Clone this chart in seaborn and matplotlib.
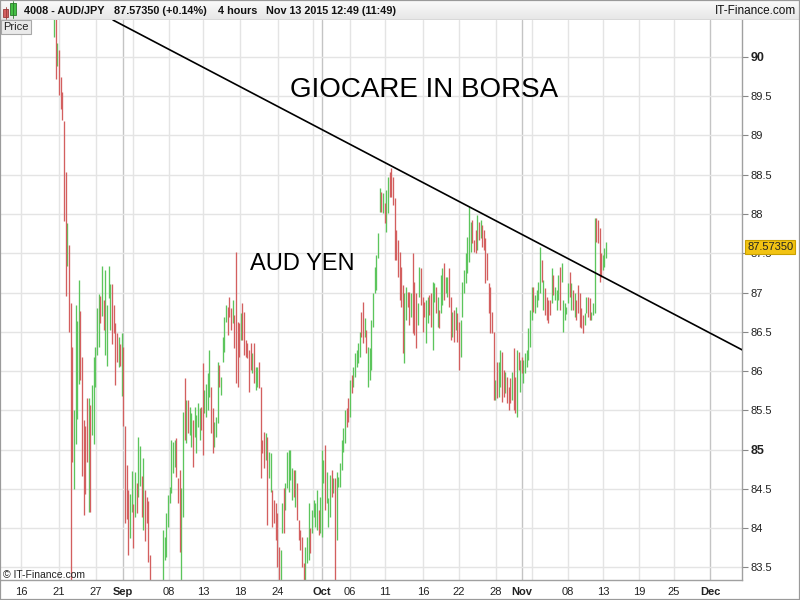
import numpy as np
import pandas as pd
import matplotlib
matplotlib.use('Agg')
import matplotlib.pyplot as plt
import matplotlib.transforms as mtransforms
from matplotlib.patches import Rectangle
import seaborn as sns

# AUD/JPY 4-hour bars: high, low, up (1 = close above open)
# Aug 20 - Sep 4
high_aug = [90.6, 90.6, 90.18, 90.09, 89.75, 89.56, 89.18, 88.54, 87.88, 87.61,
            86.86, 86.30, 85.50, 86.84, 86.64, 87.16, 86.77, 86.18, 85.37, 85.30,
            85.66, 85.66, 85.57, 85.82, 86.18, 86.30, 86.80, 86.98, 86.95, 87.34,
            86.91, 87.29, 86.84, 87.34, 87.11, 87.11, 86.84, 86.61, 86.48, 86.43,
            86.34, 86.48, 86.30, 85.30, 84.80, 84.48, 84.43, 84.73, 84.30, 84.71,
            84.57, 85.16, 85.05, 84.66, 84.89, 84.48, 84.39, 84.34, 83.66,
            83.3, 83.2, 83.25, 83.3, 83.2, 83.3, 83.25]
low_aug = [90.25, 89.72, 89.88, 89.52, 89.34, 89.20, 87.91, 86.95, 87.34, 86.50,
           83.2, 84.84, 84.50, 85.07, 85.39, 85.84, 85.89, 84.66, 84.16, 84.43,
           84.84, 84.21, 84.21, 85.18, 85.07, 85.80, 86.21, 86.30, 86.61, 86.70,
           86.52, 86.21, 86.07, 86.93, 86.52, 86.34, 86.48, 85.82, 86.11, 86.05,
           86.07, 85.68, 85.30, 84.07, 84.12, 83.66, 83.87, 84.21, 83.75, 84.14,
           84.19, 84.39, 84.53, 84.14, 83.98, 83.84, 84.07, 83.57, 83.2,
           82.9, 82.9, 82.95, 83.0, 82.9, 82.95, 82.95]
up_aug = [1, 0, 1, 0, 0, 0, 0, 0, 1, 0,
          0, 0, 1, 1, 1, 1, 0, 0, 0, 0,
          0, 1, 0, 1, 1, 1, 1, 1, 0, 1,
          0, 1, 1, 1, 1, 0, 0, 0, 0, 1,
          0, 1, 0, 0, 0, 0, 1, 1, 0, 1,
          0, 1, 1, 0, 1, 0, 0, 0, 0,
          0, 1, 0, 1, 0, 1, 1]

# Sep 7 - Sep 25
high_sep = [83.97, 83.89, 84.19, 84.42, 84.52, 85.12, 85.10, 85.12, 85.15, 84.64,
            84.74, 84.51, 85.48, 85.91, 85.63, 85.63, 85.54, 85.46, 85.38, 85.54,
            85.44, 85.59, 85.53, 85.54, 86.10, 85.76, 85.84, 85.97, 86.27, 85.80,
            85.53, 85.35, 85.41, 86.11, 86.08, 85.92, 86.43, 86.69, 86.84, 86.82,
            86.94, 86.80, 86.90, 86.71, 87.52, 86.62, 86.61, 86.74, 86.87, 86.75,
            86.40, 86.36, 86.27, 86.36, 86.23, 86.36, 86.05, 86.05]
low_sep = [83.2, 83.59, 83.63, 84.01, 84.32, 84.45, 84.70, 84.78, 84.65, 84.32,
           83.69, 83.2, 84.14, 85.12, 85.08, 85.21, 85.18, 85.03, 84.78, 85.16,
           84.96, 85.29, 85.12, 85.25, 84.93, 85.46, 85.41, 85.50, 85.67, 85.21,
           84.96, 85.03, 85.16, 85.34, 85.80, 85.69, 86.11, 86.24, 86.62, 86.46,
           86.69, 86.52, 86.61, 86.29, 85.85, 85.80, 86.18, 86.40, 86.40, 86.20,
           86.18, 86.17, 85.73, 86.01, 85.97, 85.85, 85.76, 85.80]
up_sep = [1, 1, 1, 1, 1, 1, 1, 1, 0, 0,
          0, 1, 1, 0, 1, 0, 1, 1, 0, 1,
          1, 1, 1, 0, 0, 1, 1, 1, 1, 0,
          0, 1, 1, 1, 0, 1, 1, 1, 1, 0,
          0, 0, 1, 0, 0, 0, 0, 1, 0, 0,
          0, 0, 0, 0, 1, 0, 1, 1]

# Sep 25 - Oct 9
high_oct = [86.11, 85.80, 85.12, 85.22, 85.21, 85.16, 84.97, 84.96, 84.48, 84.36,
            84.32, 84.19, 83.76, 83.72, 84.32, 84.51, 84.57, 84.97, 84.99, 84.99,
            84.76, 84.74, 84.74, 84.57, 84.10, 83.97, 83.89, 83.55, 83.76, 83.89,
            84.32, 84.00, 84.23, 84.36, 84.32, 84.48, 84.23, 84.39, 84.99, 84.87,
            85.06, 84.71, 84.38, 84.68, 84.74, 84.64, 84.64, 84.71, 84.65, 84.83,
            85.12, 85.27, 85.50, 85.53, 85.66, 85.89, 85.95, 86.05, 86.23, 86.27,
            86.36, 86.50, 86.75, 86.88, 86.68, 86.52, 86.31]
low_oct = [85.78, 84.64, 84.96, 84.76, 84.87, 84.04, 84.64, 84.46, 84.01, 84.06,
           83.85, 83.50, 83.2, 83.2, 83.94, 83.94, 84.23, 84.51, 84.46, 84.61,
           84.36, 84.39, 84.27, 84.10, 83.85, 83.72, 83.50, 83.2, 83.2, 83.55,
           83.59, 83.68, 83.94, 84.14, 84.01, 83.97, 83.91, 83.94, 83.89, 84.57,
           84.23, 84.32, 84.01, 84.14, 84.39, 84.45, 83.2, 83.85, 84.52, 84.52,
           84.74, 84.97, 85.08, 85.29, 85.35, 85.41, 85.72, 85.80, 85.92, 86.05,
           86.10, 86.18, 86.43, 86.36, 86.43, 86.23, 85.80]
up_oct = [0, 0, 0, 0, 1, 0, 1, 1, 0, 0,
          0, 0, 0, 1, 1, 0, 1, 1, 1, 1,
          1, 0, 1, 0, 0, 0, 0, 0, 1, 1,
          1, 0, 1, 1, 1, 1, 0, 1, 1, 1,
          0, 1, 1, 1, 0, 1, 0, 1, 1, 1,
          1, 1, 1, 0, 0, 1, 0, 1, 1, 1,
          1, 1, 0, 0, 1, 0, 1]

# Oct 9 - Oct 28
high_late_oct = [86.29, 86.65, 86.99, 87.32, 87.48, 87.76, 88.33, 88.28, 88.27, 88.14,
                 88.31, 88.47, 88.54, 88.59, 88.47, 88.20, 87.80, 87.67, 87.52, 87.32,
                 87.10, 86.99, 87.07, 87.01, 87.01, 86.99, 87.50, 87.13, 86.99, 86.87,
                 87.32, 87.31, 86.94, 86.88, 86.90, 86.94, 86.97, 86.99, 87.13, 87.12,
                 87.07, 86.94, 86.78, 87.22, 87.31, 87.38, 87.20, 87.20, 87.31, 86.94,
                 86.75, 86.78, 86.82, 86.74, 86.62, 86.65, 87.13, 87.29, 87.50, 87.71,
                 88.09, 87.90, 87.92, 87.67, 87.80, 87.99, 87.90, 87.92, 87.86, 87.80,
                 87.69, 87.50]
low_late_oct = [85.89, 86.01, 86.56, 86.99, 87.03, 87.44, 88.03, 88.03, 88.01, 87.89,
                87.77, 88.01, 88.22, 88.22, 88.11, 87.41, 87.41, 87.20, 86.90, 86.82,
                86.23, 86.10, 86.65, 86.82, 86.59, 86.69, 86.48, 86.46, 86.29, 86.59,
                86.94, 86.84, 86.50, 86.69, 86.36, 86.61, 86.71, 86.56, 86.27, 86.88,
                86.74, 86.56, 86.55, 86.74, 86.84, 86.90, 86.99, 86.94, 86.82, 86.40,
                86.43, 86.37, 86.52, 86.37, 86.01, 86.18, 86.69, 86.99, 87.12, 87.25,
                87.39, 87.52, 87.63, 87.52, 87.50, 87.54, 87.67, 87.69, 87.58, 87.54,
                87.12, 87.16]
up_late_oct = [1, 1, 1, 1, 1, 1, 1, 0, 1, 0,
               1, 1, 0, 0, 0, 0, 0, 0, 0, 0,
               0, 1, 1, 0, 0, 1, 0, 0, 0, 1,
               1, 0, 0, 0, 1, 1, 0, 0, 1, 1,
               0, 1, 0, 1, 1, 0, 1, 1, 0, 0,
               1, 0, 1, 0, 0, 1, 1, 1, 1, 1,
               1, 1, 0, 0, 0, 1, 0, 1, 0, 0,
               0, 0]

# Oct 28 - Nov 13
high_nov = [87.12, 87.07, 86.75, 86.50, 85.89, 86.11, 86.11, 86.27, 86.24, 86.01,
            85.99, 85.92, 85.80, 85.91, 85.99, 86.29, 85.92, 86.27, 86.24, 86.14,
            86.18, 86.14, 86.23, 86.27, 86.55, 86.78, 87.07, 87.07, 86.97, 87.03,
            87.13, 87.58, 87.41, 87.16, 87.06, 86.94, 86.90, 86.90, 87.31, 87.22,
            87.07, 87.03, 87.22, 87.32, 87.38, 86.90, 86.87, 86.82, 87.12, 87.26,
            87.12, 87.03, 86.99, 86.90, 87.10, 86.99, 86.80, 86.71, 86.74, 86.94,
            86.94, 86.93, 86.75, 86.87, 87.95, 87.95, 87.92, 87.82, 87.50, 87.48,
            87.57, 87.64]
low_nov = [86.74, 86.48, 86.48, 85.63, 85.63, 85.66, 85.67, 85.80, 85.61, 85.67,
           85.72, 85.59, 85.50, 85.59, 85.63, 85.50, 85.46, 85.41, 86.01, 85.73,
           85.97, 85.85, 85.97, 86.05, 86.14, 86.31, 86.65, 86.75, 86.74, 86.82,
           86.90, 86.99, 87.13, 86.78, 86.71, 86.65, 86.61, 86.71, 86.87, 86.97,
           86.90, 86.78, 86.90, 86.78, 87.13, 86.50, 86.65, 86.72, 86.87, 86.94,
           86.78, 86.78, 86.69, 86.65, 86.74, 86.56, 86.55, 86.48, 86.59, 86.74,
           86.69, 86.65, 86.65, 86.71, 86.74, 87.64, 87.63, 87.13, 87.20, 87.29,
           87.32, 87.44]
up_nov = [0, 0, 0, 0, 1, 0, 1, 1, 0, 0,
          1, 0, 0, 0, 1, 0, 0, 1, 0, 1,
          0, 1, 1, 1, 1, 1, 1, 0, 1, 1,
          1, 1, 0, 1, 0, 0, 0, 0, 1, 0,
          1, 1, 1, 0, 1, 1, 1, 1, 1, 0,
          1, 0, 1, 0, 0, 0, 0, 0, 1, 1,
          0, 0, 1, 1, 1, 0, 0, 0, 0, 1,
          1, 1]

last_price = 87.5735

# resistance line drawn on the chart (bar index, price)
trend_bar = [35.7, 416.2]
trend_price = [90.47, 86.27]

# date axis (bar index of each label)
tick_bars = [-20.0, 3.0, 25.4, 41.7, 69.6, 90.1, 112.5, 135.5, 162.1, 179.1, 200.2,
             223.2, 245.0, 267.4, 283.1, 311.0, 332.1, 353.9, 375.1, 396.9]
tick_labels = ['16', '21', '27', 'Sep', '08', '13', '18', '24', 'Oct', '06', '11',
               '16', '22', '28', 'Nov', '08', '13', '19', '25', 'Dec']
extra_grid_bars = [47.8, 156.7, 289.2]
price_ticks = [83.5, 84, 84.5, 85, 85.5, 86, 86.5, 87, 87.5, 88, 88.5, 89, 89.5, 90]

GREEN = '#5CC55C'
RED = '#D35F5F'
GRID = '#E4E4E4'
MONTH_GRID = '#C4C4C4'
BORDER = '#A0A0A0'

df = pd.DataFrame({
    'high': high_aug + high_sep + high_oct + high_late_oct + high_nov,
    'low': low_aug + low_sep + low_oct + low_late_oct + low_nov,
    'up': up_aug + up_sep + up_oct + up_late_oct + up_nov,
})
df['bar'] = np.arange(len(df))

sns.set_style('white')
plt.rcParams['font.family'] = ['Liberation Sans', 'DejaVu Sans']

W, H = 800, 600
fig = plt.figure(figsize=(8, 6), dpi=100)
ax = fig.add_axes([0, 20 / H, 742 / W, 560 / H])
ax.set_facecolor('white')

# grid
month_bars = [b for b, t in zip(tick_bars, tick_labels) if not t.isdigit()]
for b in tick_bars + extra_grid_bars:
    ax.axvline(b, color=MONTH_GRID if b in month_bars else GRID, lw=1.0, zorder=0)
for p in price_ticks:
    ax.axhline(p, color=GRID, lw=1.0, zorder=0)

# bars
up = df[df['up'] == 1]
dn = df[df['up'] == 0]
ax.vlines(up['bar'], up['low'], up['high'], color=GREEN, lw=0.95, zorder=2)
ax.vlines(dn['bar'], dn['low'], dn['high'], color=RED, lw=0.95, zorder=2)

# trend line
sns.lineplot(x=trend_bar, y=trend_price, color='black', lw=1.2, ax=ax, zorder=3)

ax.set_xlim(-32.7, 416.2)
ax.set_ylim(83.338, 90.471)

# axes / ticks
ax.yaxis.tick_right()
ax.set_yticks(price_ticks)
ax.set_yticklabels([('%g' % p) for p in price_ticks])
ax.tick_params(axis='y', direction='out', length=4, width=0.8, color='#888888',
               labelsize=8, pad=2, labelcolor='#222222')
for lbl, p in zip(ax.get_yticklabels(), price_ticks):
    if p in (85, 90):
        lbl.set_fontweight('bold')
        lbl.set_fontsize(9)

ax.set_xticks(tick_bars)
ax.set_xticklabels(tick_labels)
ax.tick_params(axis='x', length=0, labelsize=8, pad=5, labelcolor='#222222')
for lbl in ax.get_xticklabels():
    if not lbl.get_text().isdigit():
        lbl.set_fontweight('bold')

for side in ['left', 'top']:
    ax.spines[side].set_visible(False)
for side in ['right', 'bottom']:
    ax.spines[side].set_color(BORDER)
    ax.spines[side].set_linewidth(1.0)

# last price tag (covers the 87.5 label, as on the original)
tr = mtransforms.blended_transform_factory(ax.transAxes, ax.transData)
ax.text(1.007, last_price, '%.5f' % last_price, transform=tr, ha='left', va='center',
        fontsize=8, color='#222222', clip_on=False, zorder=10,
        bbox=dict(boxstyle='square,pad=0.18', fc='#F2C313', ec='#C9A000', lw=0.8))

# annotations on the chart
fig.text(424 / W, 1 - 90 / H, 'GIOCARE IN BORSA', fontsize=20, ha='center', va='center',
         color='black')
fig.text(302 / W, 1 - 264 / H, 'AUD YEN', fontsize=17, ha='center', va='center',
         color='black')
fig.text(3 / W, 1 - 575 / H, '\u00a9 IT-Finance.com', fontsize=7.5, ha='left', va='center',
         color='#222222')
fig.text(3 / W, 1 - 27 / H, 'Price', fontsize=8, ha='left', va='center', color='#222222',
         bbox=dict(boxstyle='square,pad=0.22', fc='#EAEAEA', ec='#A8A8A8', lw=0.8))

# header strip
hax = fig.add_axes([0, 1 - 20 / H, 1, 20 / H])
grad = np.linspace(0, 1, 20).reshape(-1, 1)
hax.imshow(grad, extent=[0, W, 20, 0], aspect='auto', cmap=sns.blend_palette(
    ['#FBFBFB', '#E6E6E6'], as_cmap=True), zorder=0)
hax.set_xlim(0, W)
hax.set_ylim(20, 0)
hax.axis('off')
hax.add_patch(Rectangle((3, 9), 5, 8, fc=RED, ec='#9A3A3A', lw=0.6))
hax.plot([5.5, 5.5], [7, 19], color='#9A3A3A', lw=0.6)
hax.add_patch(Rectangle((10, 3), 6, 12, fc='#44C044', ec='#2A7A2A', lw=0.6))
hax.plot([13, 13], [1, 18], color='#2A7A2A', lw=0.6)
hax.text(24, 11, '4008 - AUD/JPY', fontsize=7.8, fontweight='bold', va='center', color='#111111')
hax.text(114, 11, '87.57350 (+0.14%)', fontsize=7.8, fontweight='bold', va='center', color='#111111')
hax.text(218, 11, '4 hours', fontsize=7.8, fontweight='bold', va='center', color='#111111')
hax.text(266, 11, 'Nov 13 2015 12:49 (11:49)', fontsize=7.8, fontweight='bold', va='center',
         color='#111111')
hax.text(796, 11, 'IT-Finance.com', fontsize=8.5, ha='right', va='center', color='#111111')
hax.axhline(19.5, color=BORDER, lw=1.0)

# outer frame
fig.patches.append(Rectangle((0, 0), 1, 1, transform=fig.transFigure, fill=False,
                             ec='#9A9A9A', lw=1.6, zorder=20))

fig.savefig('out.png', dpi=100, facecolor='white')
plt.close(fig)
